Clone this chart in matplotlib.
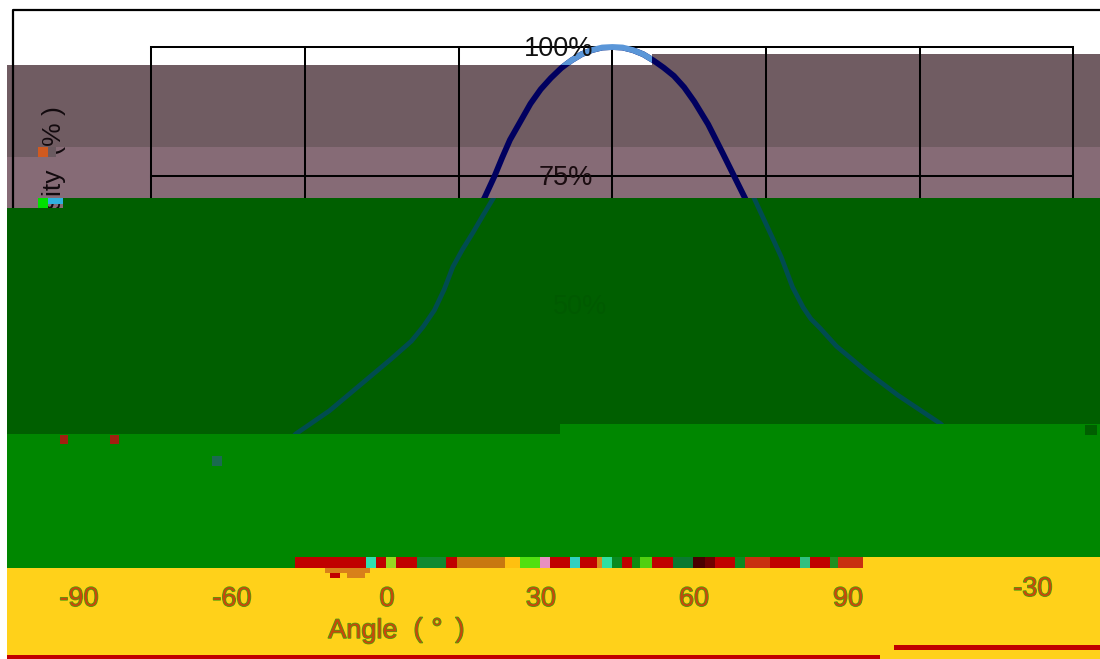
import matplotlib
matplotlib.use('Agg')
import matplotlib.pyplot as plt
import matplotlib.patheffects as pe
from matplotlib.patches import Rectangle
from matplotlib.transforms import Affine2D

plt.rcParams['font.family'] = ['Liberation Sans', 'DejaVu Sans']

# Curve
angles = [-90, -75, -63.6, -57, -51, -45, -41, -38.7, -36.5, -34.6, -32.9, -31, -29, -27, -25, -23, -21.5, -20,
          -18, -16, -14, -12, -10, -8, -6, -4, -2, 0,
          2, 4, 6, 8, 10, 12, 14, 16, 18.7, 21.5, 24, 26, 28, 29.5, 31.2, 33.4, 35.5, 37, 38.8, 42, 48, 54,
          62.3, 75, 90]
intensity = [3, 12, 25, 29.5, 34.5, 39.5, 43, 45.8, 49, 53, 57.4, 60.8, 64, 67.4, 70.7, 75, 78.6, 82,
             85.5, 89, 91.8, 94, 95.9, 97.4, 98.6, 99.4, 99.9, 100,
             99.9, 99.4, 98.6, 97.4, 96, 94.4, 92.2, 89.4, 85, 79.5, 74.5, 70.5, 66.2, 63, 59.3, 53.5, 49.5, 47.3,
             45.5, 42, 37, 32.5, 27, 14, 3]

grid_angles = [-90, -60, -30, 0, 30, 60, 90]
grid_levels = [25, 50, 75, 100]
tick_texts = ['-90', '-60', '0', '30', '60', '90', '-30']

WIDTH, HEIGHT = 1100, 659

fig = plt.figure(figsize=(WIDTH / 100, HEIGHT / 100), dpi=100)
ax = fig.add_axes([151.4 / WIDTH, 1 - 563 / HEIGHT, (1073.4 - 151.4) / WIDTH, (563 - 47) / HEIGHT])
ax.patch.set_visible(False)
ax.set_xlim(-90, 90)
ax.set_ylim(0, 100)
for side in ax.spines.values():
    side.set_visible(False)

# image pixels (origin top left) to display coordinates
px = Affine2D().scale(1, -1).translate(0, HEIGHT)


def block(x0, y0, x1, y1, color, zorder):
    ax.add_patch(Rectangle((x0, y0), x1 - x0, y1 - y0, facecolor=color, edgecolor='none',
                           transform=px, clip_on=False, zorder=zorder))


def label(x, y, text, color, zorder, **kw):
    kw.setdefault('ha', 'center')
    kw.setdefault('va', 'center')
    kw.setdefault('fontsize', 19.5)
    return ax.text(x, y, text, color=color, transform=px, clip_on=False, zorder=zorder, **kw)


def garbled(x, y, text, zorder):
    # tick text broken up in the reference: green fringe round red-orange
    t = label(x, y, text, '#c8480c', zorder)
    t.set_path_effects([pe.withStroke(linewidth=1.1, foreground='#4f9f0c')])


# grid
ax.set_xticks(grid_angles)
ax.set_yticks(grid_levels)
ax.set_xticklabels([])
ax.set_yticklabels([])
ax.tick_params(length=0)
ax.set_axisbelow(True)
ax.grid(True, color='black', linewidth=1.45)
for line in ax.get_xgridlines() + ax.get_ygridlines():
    line.set_clip_on(False)
    line.set_zorder(0.5)

# outer frame
ax.plot([12.5, 12.5, WIDTH], [208, 9.5, 9.5], color='black', lw=1.6, transform=px, clip_on=False, zorder=0.4)

# mauve bands sit under the grid
block(7, 65, 652, 147, '#705c62', 0.2)
block(652, 54, WIDTH, 147, '#705c62', 0.2)
block(7, 65, 38, 157, '#705c62', 0.2)
block(38, 147, WIDTH, 198, '#866b76', 0.2)
block(7, 157, 38, 208, '#866b76', 0.2)
block(38, 198, 63, 208, '#866b76', 0.2)

# y title, lower part is covered by the green band
label(54, 106, 'Intensity  (% )', '#120a0e', 1, rotation=90, va='top', fontsize=19)

# curve pieces, one colour per background
ax.plot(angles, intensity, color='#00005f', lw=4.2, zorder=2, solid_joinstyle='round')
top_piece, = ax.plot(angles, intensity, color='#5a96d8', lw=4.2, zorder=2.1, solid_joinstyle='round')
top_piece.set_clip_path(Rectangle((500, 30), 152, 35, transform=px))

ax.text(-3.7, 99.6, '100%', ha='right', va='center', fontsize=19.5, color='#111111', zorder=3)
ax.text(-3.7, 74.6, '75%', ha='right', va='center', fontsize=19.5, color='#1a0c10', zorder=3)

# dark green band, its tile sits about 9 pixels to the right of the part above
block(7, 208, 63, 434, '#005f00', 4)
block(63, 198, 560, 434, '#005f00', 4)
block(560, 198, WIDTH, 424, '#005f00', 4)
shifted = ax.transData + Affine2D().translate(9, 0)
mid_piece, = ax.plot(angles, intensity, color='#004c50', lw=3.4, zorder=4.5, transform=shifted,
                     solid_joinstyle='round')
mid_piece.set_clip_path(Rectangle((0, 198), WIDTH, 240, transform=px))
ax.text(-1, 49.6, '50%', ha='right', va='center', fontsize=19.5, color='#005a00', zorder=4.6)

# specks at the band edges
block(38, 198, 48, 208, '#00e000', 4.7)
block(48, 198, 63, 204, '#30b0e0', 4.7)
block(38, 147, 48, 157, '#d05a20', 4.7)
block(48, 147, 56, 157, '#6a5a60', 4.7)

# bright green band
block(7, 434, 560, 568, '#008700', 6)
block(560, 424, WIDTH, 557, '#008700', 6)
block(560, 557, 863, 568, '#008700', 6)
block(60, 435, 68, 444, '#a02010', 6.1)
block(110, 435, 119, 444, '#a02010', 6.1)
block(212, 456, 222, 466, '#1a6a50', 6.1)
block(1085, 425, 1097, 435, '#005f00', 6.1)

# yellow band and red bars along the bottom
block(7, 568, 863, HEIGHT, '#ffd11a', 7)
block(863, 557, WIDTH, HEIGHT, '#ffd11a', 7)
block(7, 655, 880, HEIGHT, '#c00000', 7.1)
block(894, 645, WIDTH, 650, '#c00000', 7.1)

# broken strip above the axis numbers
strip_edges = [295, 366, 376, 386, 396, 417, 446, 457, 505, 520, 540, 550, 570, 580, 597, 602, 612, 622, 632,
               640, 652, 673, 693, 705, 715, 735, 745, 770, 800, 810, 830, 838, 863]
strip_colors = ['#c00000', '#30e0b0', '#c00000', '#98d820', '#c00000', '#108a30', '#c00000', '#c87810',
                '#ffc010', '#50e010', '#e890c0', '#c00000', '#30d0c0', '#c00000', '#d88a20', '#30e0a0',
                '#0a8a20', '#c00000', '#108a10', '#50d010', '#c00000', '#0a7a30', '#4a0000', '#700000',
                '#c00000', '#0a8a20', '#c83010', '#c00000', '#30c080', '#c00000', '#209020', '#c83010']
for i in range(len(strip_colors)):
    block(strip_edges[i], 557, strip_edges[i + 1], 568, strip_colors[i], 7.2)
block(325, 568, 370, 573, '#d8801a', 7.2)
block(330, 573, 340, 578, '#c00000', 7.2)
block(347, 573, 365, 578, '#d8801a', 7.2)

# axis numbers
tick_x = [79, 232, 387, 541, 694, 848, 1033]
tick_y = [599, 599, 599, 599, 599, 599, 589]
for x, y, text in zip(tick_x, tick_y, tick_texts):
    garbled(x, y, text, 8)

# axis title, its pieces are spread apart in the reference
garbled(363, 631, 'Angle', 8)
garbled(418, 630, '(', 8)
garbled(437, 630, '°', 8)
garbled(460, 630, ')', 8)

fig.savefig('out.png', dpi=100)
